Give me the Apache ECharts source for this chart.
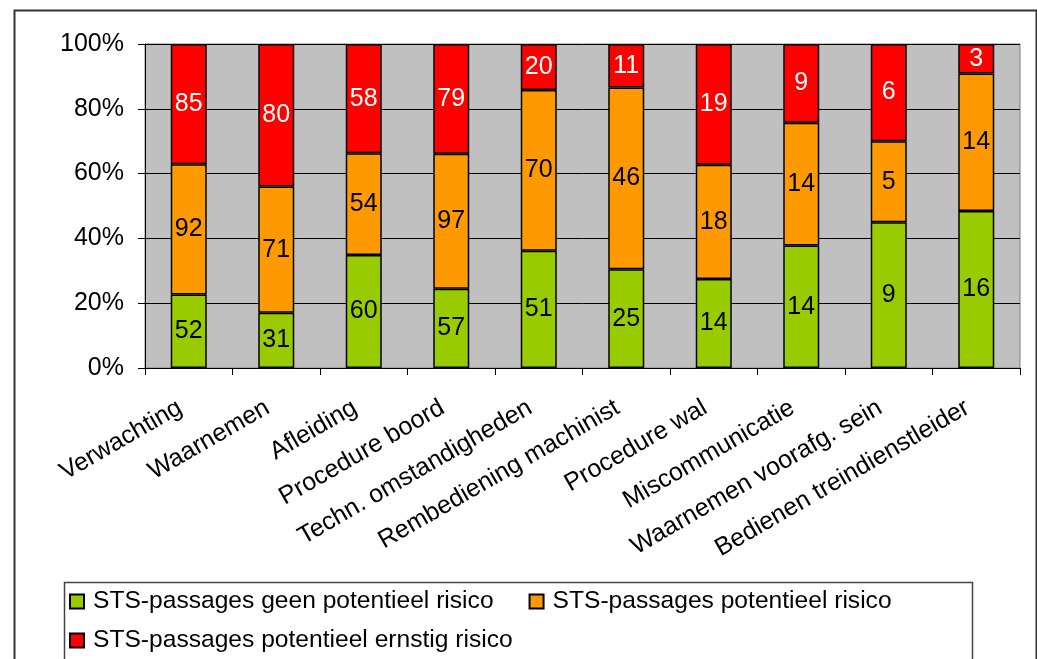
<!DOCTYPE html>
<html>
<head>
<meta charset="utf-8">
<script src="https://cdn.jsdelivr.net/npm/echarts@6/dist/echarts.min.js"></script>
<style>
html,body{margin:0;padding:0;background:#fff;}
#chart{width:1037px;height:659px;}
</style>
</head>
<body>
<div id="chart"></div>
<script>
const categories = ["Verwachting","Waarnemen","Afleiding","Procedure boord","Techn. omstandigheden","Rembediening machinist","Procedure wal","Miscommunicatie","Waarnemen voorafg. sein","Bedienen treindienstleider"];
const geenRisico = [52,31,60,57,51,25,14,14,9,16];
const potentieelRisico = [92,71,54,97,70,46,18,14,5,14];
const ernstigRisico = [85,80,58,79,20,11,19,9,6,3];
const yTicks = [0,20,40,60,80,100];
const seriesNames = ["STS-passages geen potentieel risico","STS-passages potentieel risico","STS-passages potentieel ernstig risico"];
const colors = ["#99CC00","#FF9900","#FF0000"];

const totals = categories.map((c,i)=>geenRisico[i]+potentieelRisico[i]+ernstigRisico[i]);
const raw = [geenRisico, potentieelRisico, ernstigRisico];
const FONT = "Liberation Sans, Arial, sans-serif";
const FS = 25;
const LFS = 24.6;

const chart = echarts.init(document.getElementById('chart'));
const series = raw.map((arr,k)=>({
  name: seriesNames[k],
  type: 'bar',
  stack: 'total',
  barWidth: 36,
  data: arr.map((v,i)=>v/totals[i]*100),
  itemStyle: {color: colors[k], borderColor: '#000', borderWidth: 1.5},
  label: {
    show: true,
    position: 'inside',
    fontFamily: FONT,
    fontSize: FS,
    color: k===2 ? '#fff' : '#000',
    formatter: p => String(arr[p.dataIndex])
  }
}));

chart.setOption({
  animation: false,
  backgroundColor: '#fff',
  textStyle: {fontFamily: FONT},
  grid: {left:145, right:17, top:44, bottom:291, show:true, backgroundColor:'#C0C0C0', borderColor:'#808080', borderWidth:1},
  xAxis: {
    type: 'category',
    data: categories,
    axisLine: {lineStyle:{color:'#000', width:1}},
    axisTick: {show:true, length:7, lineStyle:{color:'#000'}},
    axisLabel: {rotate:30, margin:33, padding:[0,10,0,0], fontSize:FS, color:'#000', fontFamily: FONT, interval:0}
  },
  yAxis: {
    type: 'value',
    min: yTicks[0], max: yTicks[yTicks.length-1], interval: 20,
    axisLine: {show:true, lineStyle:{color:'#000', width:1}},
    axisTick: {show:true, length:7, lineStyle:{color:'#000'}},
    axisLabel: {formatter:'{value}%', fontSize:FS, color:'#000', margin:21, fontFamily: FONT},
    splitLine: {lineStyle:{color:'#000', width:1}}
  },
  legend: [
    {data:[seriesNames[0], seriesNames[1]], left:69, top:589, padding:0, icon:'rect', itemWidth:14, itemHeight:14, itemGap:35,
     textStyle:{fontSize:LFS, color:'#000', fontFamily: FONT, padding:[0,0,0,4]}},
    {data:[seriesNames[2]], left:69, top:628, padding:0, icon:'rect', itemWidth:14, itemHeight:14,
     textStyle:{fontSize:LFS, color:'#000', fontFamily: FONT, padding:[0,0,0,4]}}
  ],
  graphic: [
    {type:'rect', left:12, top:8, shape:{width:1022, height:700}, style:{fill:'none', stroke:'#333', lineWidth:2}, silent:true, z:-1},
    {type:'rect', left:62, top:580, shape:{width:908, height:100}, style:{fill:'none', stroke:'#444', lineWidth:1.5}, silent:true}
  ],
  series: series
});
</script>
</body>
</html>
